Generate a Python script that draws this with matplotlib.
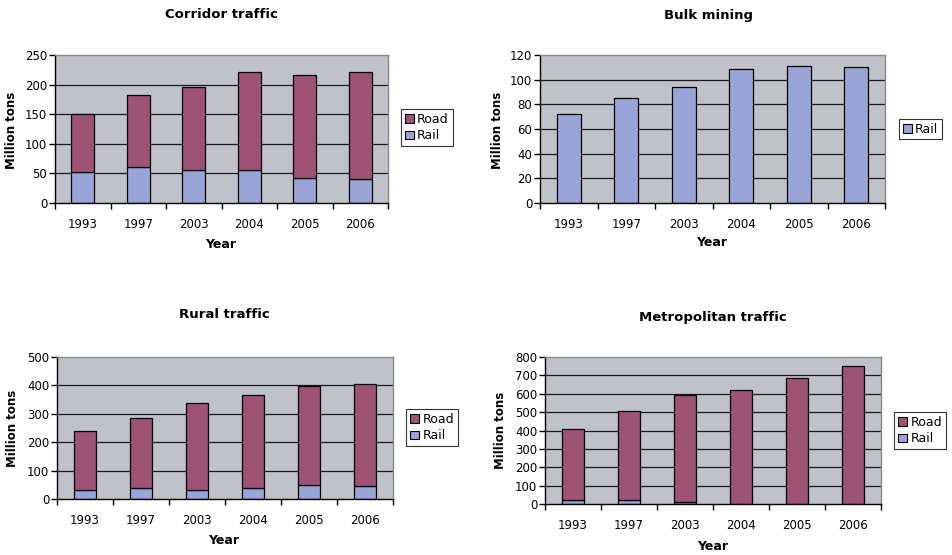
import matplotlib
matplotlib.use("Agg")
import matplotlib.pyplot as plt
from matplotlib.patches import Patch

# data
years = ['1993', '1997', '2003', '2004', '2005', '2006']
corridor_rail = [53, 61, 55, 55, 43, 41]
corridor_road = [97, 121, 141, 166, 174, 180]
bulk_rail = [72, 85, 94, 109, 111, 110]
rural_rail = [33, 37, 33, 37, 50, 46]
rural_road = [208, 247, 306, 328, 348, 360]
metro_rail = [20, 20, 12, 0, 0, 0]
metro_road = [386, 485, 580, 619, 688, 753]

ROAD = '#9E5276'
RAIL = '#99A5D6'
BG = '#C0C2C9'

W, H = 952, 555
fig = plt.figure(figsize=(W / 100, H / 100), dpi=100)
plt.rcParams['font.family'] = 'DejaVu Sans'


def px_axes(l, t, r, b):
    # pixel box -> figure fraction axes
    return fig.add_axes([l / W, 1 - b / H, (r - l) / W, (b - t) / H])


def style(ax, ymax, step):
    ax.set_facecolor(BG)
    ax.set_xlim(-0.5, len(years) - 0.5)
    ax.set_ylim(0, ymax)
    ticks = list(range(0, ymax + 1, step))
    ax.set_yticks(ticks)
    ax.tick_params(axis='y', labelsize=8.5, length=4, width=1, pad=1.5, direction='out')
    ax.set_xticks(range(len(years)))
    ax.set_xticklabels(years)
    ax.tick_params(axis='x', which='major', length=0, labelsize=8.5, pad=11)
    ax.set_xticks([i - 0.5 for i in range(len(years) + 1)], minor=True)
    ax.tick_params(axis='x', which='minor', length=4, width=1, direction='out')
    for t in ticks[1:-1]:
        ax.axhline(t, color='#1a1a1a', lw=0.9, zorder=0.5)
    for s in ['left', 'bottom']:
        ax.spines[s].set_color('black')
        ax.spines[s].set_linewidth(1)
    for s in ['top', 'right']:
        ax.spines[s].set_color('#8a8a8a')
        ax.spines[s].set_linewidth(1)


def labels(title, tx, ty, yx, yy, xx, xy):
    fig.text(tx / W, 1 - ty / H, title, ha='center', va='center', fontsize=9.5, fontweight='bold')
    fig.text(yx / W, 1 - yy / H, 'Million tons', ha='center', va='center', rotation=90,
             fontsize=8.5, fontweight='bold')
    fig.text(xx / W, 1 - xy / H, 'Year', ha='center', va='center', fontsize=9, fontweight='bold')


def legend(ax, names, colors, lx, ly):
    handles = [Patch(facecolor=c, edgecolor='black', linewidth=0.8) for c in colors]
    lg = ax.legend(handles, names, loc='center left', bbox_to_anchor=(lx / W, 1 - ly / H),
                   bbox_transform=fig.transFigure, fontsize=9, frameon=True, fancybox=False,
                   handlelength=0.7, handleheight=0.7, handletextpad=0.3, borderpad=0.3,
                   labelspacing=0.3, borderaxespad=0)
    lg.get_frame().set_edgecolor('black')
    lg.get_frame().set_linewidth(0.8)


x = range(len(years))
bw = 0.41

# Corridor traffic
ax1 = px_axes(55, 55, 388, 203)
style(ax1, 250, 50)
ax1.bar(x, corridor_rail, bw, color=RAIL, edgecolor='black', lw=0.9, zorder=2)
ax1.bar(x, corridor_road, bw, bottom=corridor_rail, color=ROAD, edgecolor='black', lw=0.9, zorder=2)
labels('Corridor traffic', 221, 14, 12, 130, 221, 245)
legend(ax1, ['Road', 'Rail'], [ROAD, RAIL], 401, 127.5)

# Bulk mining
ax2 = px_axes(540, 55, 885, 203)
style(ax2, 120, 20)
ax2.bar(x, bulk_rail, bw, color=RAIL, edgecolor='black', lw=0.9, zorder=2)
labels('Bulk mining', 709, 15, 497, 130, 712, 243)
legend(ax2, ['Rail'], [RAIL], 899, 129)

# Rural traffic
ax3 = px_axes(57, 357, 393, 499)
style(ax3, 500, 100)
ax3.bar(x, rural_rail, bw, color=RAIL, edgecolor='black', lw=0.9, zorder=2)
ax3.bar(x, rural_road, bw, bottom=rural_rail, color=ROAD, edgecolor='black', lw=0.9, zorder=2)
labels('Rural traffic', 224, 315, 13, 428, 224, 540)
legend(ax3, ['Road', 'Rail'], [ROAD, RAIL], 406, 427.5)

# Metropolitan traffic
ax4 = px_axes(545, 357, 881, 504)
style(ax4, 800, 100)
ax4.bar(x, metro_rail, bw, color=RAIL, edgecolor='black', lw=0.9, zorder=2)
ax4.bar(x, metro_road, bw, bottom=metro_rail, color=ROAD, edgecolor='black', lw=0.9, zorder=2)
labels('Metropolitan traffic', 713, 317, 501, 430, 713, 546)
legend(ax4, ['Road', 'Rail'], [ROAD, RAIL], 894, 430.5)

fig.savefig('out.png', dpi=100, facecolor='white')
